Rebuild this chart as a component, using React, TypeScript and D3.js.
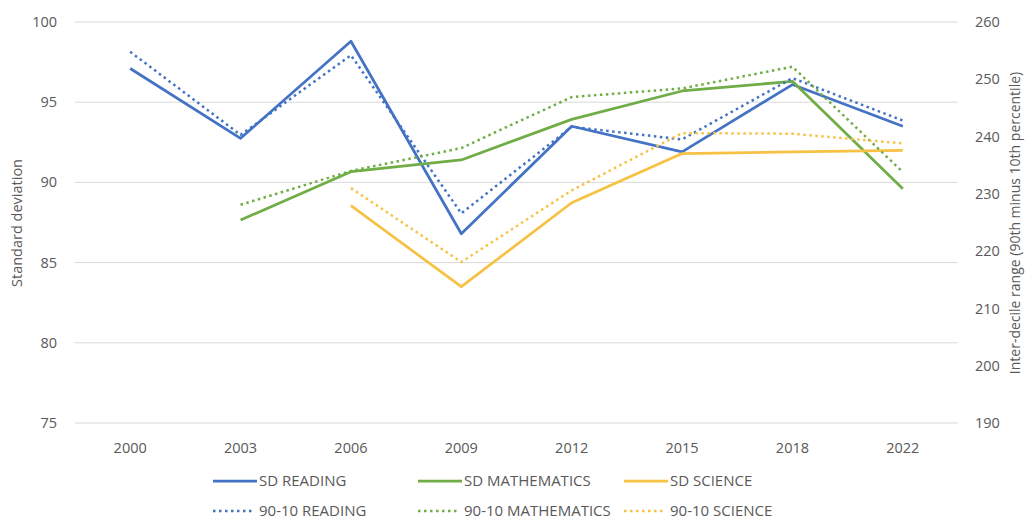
import * as d3 from 'd3';

const years = ['2000', '2003', '2006', '2009', '2012', '2015', '2018', '2022'];

// left axis: standard deviation
const sdReading = [97.1, 92.75, 98.8, 86.8, 93.5, 91.9, 96.1, 93.5];
const sdMath = [null, 87.65, 90.67, 91.4, 93.93, 95.7, 96.3, 89.6];
const sdScience = [null, null, 88.55, 83.5, 88.73, 91.8, 91.9, 92.0];

// right axis: 90th minus 10th percentile
const p9010Reading = [254.8, 240.3, 254.2, 226.6, 241.7, 239.5, 250.2, 242.8];
const p9010Math = [null, 228.1, 234.0, 238.0, 246.9, 248.4, 252.2, 233.8];
const p9010Science = [null, null, 231.0, 218.1, 230.6, 240.6, 240.5, 238.8];

const leftTicks = [75, 80, 85, 90, 95, 100];
const rightTicks = [190, 200, 210, 220, 230, 240, 250, 260];

const BLUE = '#4472c4';
const GREEN = '#70ad47';
const YELLOW = '#f7c244';
const TEXT = '#595959';
const FONT = "'Open Sans', sans-serif";

const series = [
  { name: 'SD READING', values: sdReading, color: BLUE, axis: 'left', dotted: false },
  { name: 'SD MATHEMATICS', values: sdMath, color: GREEN, axis: 'left', dotted: false },
  { name: 'SD SCIENCE', values: sdScience, color: YELLOW, axis: 'left', dotted: false },
  { name: '90-10 READING', values: p9010Reading, color: BLUE, axis: 'right', dotted: true },
  { name: '90-10 MATHEMATICS', values: p9010Math, color: GREEN, axis: 'right', dotted: true },
  { name: '90-10 SCIENCE', values: p9010Science, color: YELLOW, axis: 'right', dotted: true },
];

export default function App() {
  const width = 1025;
  const height = 519;
  const plot = { left: 75, right: 958, top: 22, bottom: 423 };

  const x = d3.scalePoint<string>().domain(years).range([plot.left, plot.right]).padding(0.5);
  const yLeft = d3.scaleLinear().domain([75, 100]).range([plot.bottom, plot.top]);
  const yRight = d3.scaleLinear().domain([190, 260]).range([plot.bottom, plot.top]);

  const makeLine = (scale: d3.ScaleLinear<number, number>) =>
    d3.line<number | null>()
      .defined(d => d !== null)
      .x((_, i) => x(years[i]) as number)
      .y(d => scale(d as number));

  const lineLeft = makeLine(yLeft);
  const lineRight = makeLine(yRight);

  // legend layout: 3 columns, 2 rows
  const legendCols = [213, 418, 624];
  const legendRows = [481, 511];

  return (
    <svg width={width} height={height} style={{ position: 'absolute', left: 0, top: 0, background: '#fff' }}>
      {/* gridlines */}
      {leftTicks.map(t => (
        <line key={t} x1={plot.left} x2={plot.right} y1={yLeft(t)} y2={yLeft(t)} stroke="#d9d9d9" strokeWidth={1} />
      ))}
      {/* left ticks */}
      {leftTicks.map(t => (
        <text key={'l' + t} x={57} y={yLeft(t)} dy="0.35em" textAnchor="end" fontSize={14.5} fill={TEXT} fontFamily={FONT}>
          {t}
        </text>
      ))}
      {/* right ticks */}
      {rightTicks.map(t => (
        <text key={'r' + t} x={975} y={yRight(t)} dy="0.35em" textAnchor="start" fontSize={14.5} fill={TEXT} fontFamily={FONT}>
          {t}
        </text>
      ))}
      {/* x labels */}
      {years.map(yr => (
        <text key={yr} x={x(yr)} y={453} textAnchor="middle" fontSize={14.5} fill={TEXT} fontFamily={FONT}>
          {yr}
        </text>
      ))}
      {/* axis titles */}
      <text transform="translate(22,223) rotate(-90)" textAnchor="middle" fontSize={14.5} fill={TEXT} fontFamily={FONT}>
        Standard deviation
      </text>
      <text transform="translate(1020,223) rotate(-90)" textAnchor="middle" fontSize={14} fill={TEXT} fontFamily={FONT}>
        Inter-decile range (90th minus 10th percentile)
      </text>
      {/* lines */}
      {series.map(s => (
        <path
          key={s.name}
          d={(s.axis === 'left' ? lineLeft : lineRight)(s.values) || ''}
          fill="none"
          stroke={s.color}
          strokeWidth={s.dotted ? 2.5 : 2.75}
          strokeDasharray={s.dotted ? '2.5 3.5' : undefined}
          strokeLinejoin="round"
        />
      ))}
      {/* legend */}
      {series.map((s, i) => {
        const cx = legendCols[i % 3];
        const cy = legendRows[Math.floor(i / 3)];
        return (
          <g key={'lg' + s.name}>
            <line
              x1={cx}
              x2={cx + (s.dotted ? 40 : 44)}
              y1={cy}
              y2={cy}
              stroke={s.color}
              strokeWidth={s.dotted ? 2.5 : 2.75}
              strokeDasharray={s.dotted ? '2.5 3.5' : undefined}
            />
            <text x={cx + 46} y={cy} dy="0.35em" fontSize={15} fill={TEXT} fontFamily={FONT}>
              {s.name}
            </text>
          </g>
        );
      })}
    </svg>
  );
}
